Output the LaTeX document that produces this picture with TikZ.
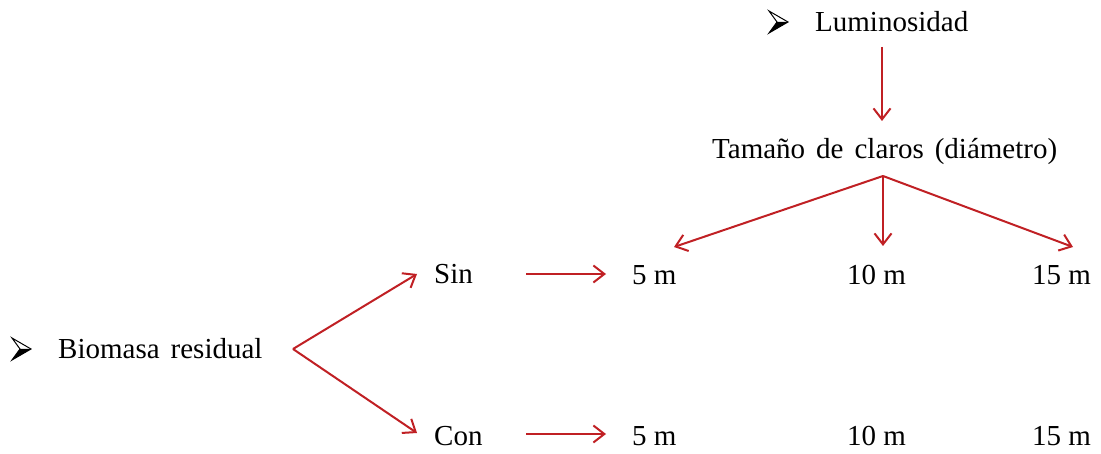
\documentclass[tikz,border=0pt]{standalone}
\usepackage{fontspec}
\setmainfont{Liberation Serif}
\usetikzlibrary{arrows.meta}
\definecolor{arrowred}{RGB}{192,32,36}
\newcommand\widespacing{\spaceskip=11pt\relax}
\begin{document}
\begin{tikzpicture}[x=1pt,y=-1pt,
  lbl/.style={inner sep=0pt, anchor=base west, font=\fontsize{29}{34}\selectfont, execute at begin node=\widespacing},
  mlbl/.style={inner sep=0pt, anchor=base west, font=\fontsize{29}{34}\selectfont},
  conn/.style={draw=arrowred, line width=2pt, -{Straight Barb[length=11pt,width=17pt,line width=2pt]}},
  bullet/.pic={
    \fill[black] (8,0) -- (19,0) -- (0,11) -- cycle;
    \draw[black, line width=1pt, line join=miter] (0,-11) -- (19,0) -- (0,11) -- (8,0) -- cycle;
  }]
\useasboundingbox (0,0) rectangle (1101,454);
% texts
\pic at (769,22) {bullet};
\node[lbl] (lum) at (815,32) {Luminosidad};
\node[lbl] (tam) at (712,159) {Tamaño de claros (diámetro)};
\node[lbl] (sin) at (434,284) {Sin};
\node[lbl] (con) at (434,445) {Con};
\node[mlbl] (s5) at (632,285) {5 m};
\node[mlbl] (s10) at (847,285) {10 m};
\node[mlbl] (s15) at (1032,285) {15 m};
\node[mlbl] (c5) at (632,445) {5 m};
\node[mlbl] (c10) at (847,445) {10 m};
\node[mlbl] (c15) at (1032,445) {15 m};
\pic at (12,349) {bullet};
\node[lbl] (bio) at (58,359) {Biomasa residual};
% connector points
\coordinate (lumA) at (882,47);
\coordinate (lumB) at (882,121);
\coordinate (tamV) at (883,176);
\coordinate (t5) at (674,247);
\coordinate (t10) at (883,246);
\coordinate (t15) at (1073,247);
\coordinate (bioV) at (293,349);
\coordinate (sinT) at (417,274);
\coordinate (conT) at (417,433);
\coordinate (sinA) at (526,274);
\coordinate (sinB) at (606,274);
\coordinate (conA) at (526,434);
\coordinate (conB) at (606,434);
% connectors
\draw[conn] (lumA) -- (lumB);
\draw[conn] (tamV) -- (t5);
\draw[conn] (tamV) -- (t10);
\draw[conn] (tamV) -- (t15);
\draw[conn] (bioV) -- (sinT);
\draw[conn] (bioV) -- (conT);
\draw[conn] (sinA) -- (sinB);
\draw[conn] (conA) -- (conB);
\end{tikzpicture}
\end{document}
